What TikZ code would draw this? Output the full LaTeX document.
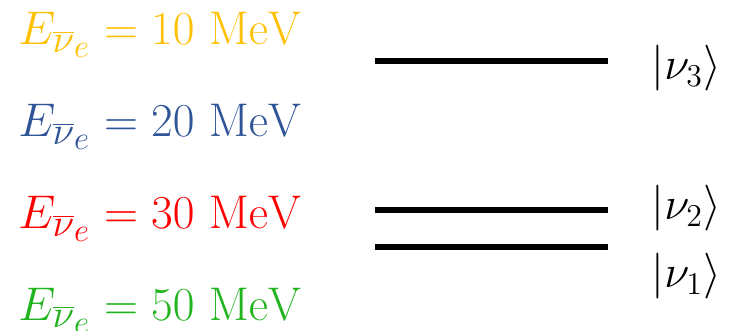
\documentclass[tikz,border=0pt]{standalone}
\usepackage{xcolor}
\definecolor{cyel}{HTML}{FFC000}
\definecolor{cblue}{HTML}{2F5597}
\definecolor{cred}{HTML}{FF0000}
\definecolor{cgreen}{HTML}{22B41E}
\begin{document}
\begin{tikzpicture}[x=1pt,y=-1pt,
  energy/.style={anchor=base west,inner sep=0pt,scale=1.9,transform shape,font=\fontsize{24.88}{30}\selectfont},
  state/.style={anchor=west,inner sep=0pt,scale=2.65,transform shape,font=\fontsize{17.28}{20}\selectfont},
  level/.style={line width=6pt}]
\useasboundingbox (0,0) rectangle (737,331);
\node[energy,text=cyel]   (e1) at (18,45)  {$E_{\overline{\nu}_e} = 10\ \mathrm{MeV}$};
\node[energy,text=cblue]  (e2) at (18,137) {$E_{\overline{\nu}_e} = 20\ \mathrm{MeV}$};
\node[energy,text=cred]   (e3) at (18,229) {$E_{\overline{\nu}_e} = 30\ \mathrm{MeV}$};
\node[energy,text=cgreen] (e4) at (18,320) {$E_{\overline{\nu}_e} = 50\ \mathrm{MeV}$};
\coordinate (l3a) at (375,61);  \coordinate (l3b) at (608,61);
\coordinate (l2a) at (375,210); \coordinate (l2b) at (608,210);
\coordinate (l1a) at (375,247); \coordinate (l1b) at (608,247);
\draw[level] (l3a) -- (l3b);
\draw[level] (l2a) -- (l2b);
\draw[level] (l1a) -- (l1b);
\node[state] (s3) at (651,68)  {$|\nu_3\rangle$};
\node[state] (s2) at (651,208) {$|\nu_2\rangle$};
\node[state] (s1) at (651,276) {$|\nu_1\rangle$};
\end{tikzpicture}
\end{document}
